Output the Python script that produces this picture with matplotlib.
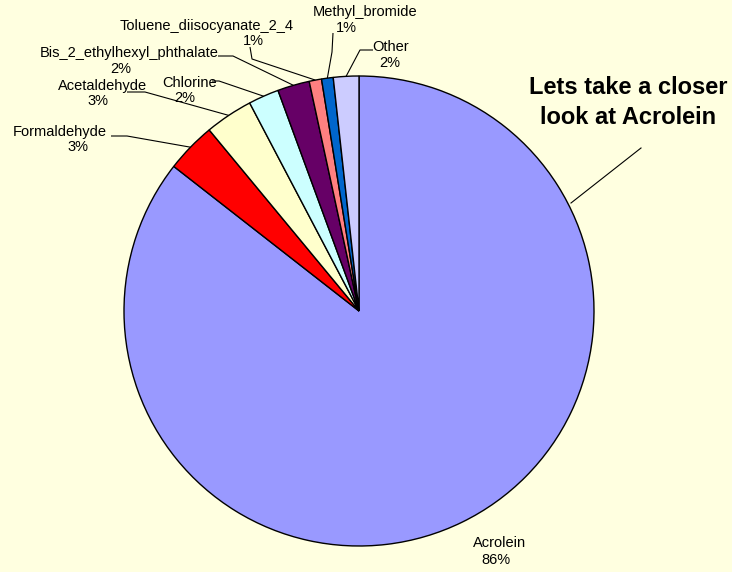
import numpy as np
import matplotlib
matplotlib.use("Agg")
import matplotlib.pyplot as plt

# Share of each pollutant
names = ["Acrolein", "Formaldehyde", "Acetaldehyde", "Chlorine",
         "Bis_2_ethylhexyl_phthalate", "Toluene_diisocyanate_2_4",
         "Methyl_bromide", "Other"]
shares = [85.55, 3.45, 3.3, 2.1, 2.2, 0.85, 0.8, 1.75]
colors = ["#9999FF", "#FF0000", "#FFFFCC", "#CCFFFF",
          "#660066", "#FF8080", "#0066CC", "#CCCCFF"]

W, H = 732, 572
BG = "#FFFFE0"

fig = plt.figure(figsize=(W / 100, H / 100), dpi=100, facecolor=BG)
ax = fig.add_axes([0, 0, 1, 1])
ax.set_facecolor(BG)

cx, cy, r = 359, H - 311, 235
wedges, _ = ax.pie(shares, colors=colors, startangle=90, counterclock=False,
                   center=(cx, cy), radius=r, frame=True,
                   wedgeprops=dict(edgecolor="black", linewidth=1.0))
ax.set_xlim(0, W)
ax.set_ylim(0, H)
ax.set_aspect("equal")
ax.axis("off")

total = sum(shares)
pcts = [f"{int(v / total * 100 + 0.5)}%" for v in shares]

FONT = "Liberation Sans"
FS = 10.5

# name position, percent position, leader start and bend, in pixel layout
layout = {
    "Acrolein": ((500, 543), (496, 560), None),
    "Formaldehyde": ((60, 132), (78, 147), [(111, 136), (127, 136)]),
    "Acetaldehyde": ((103, 86), (98, 101), [(127, 92), (145, 92)]),
    "Chlorine": ((190, 83), (185, 98), [(212, 81), (219, 81)]),
    "Bis_2_ethylhexyl_phthalate": ((129, 53), (121, 69), [(218, 56), (233, 56)]),
    "Toluene_diisocyanate_2_4": ((207, 26), (253, 41), [(250, 47), (252, 59)]),
    "Methyl_bromide": ((365, 12), (346, 28), [(333, 33), (332, 52)]),
    "Other": ((391, 47), (390, 63), [(373, 50), (360, 50)]),
}

for w, name, pct in zip(wedges, names, pcts):
    (nx, ny), (px, py), lead = layout[name]
    ax.text(nx, H - ny, name, ha="center", va="center", fontsize=FS,
            family=FONT, color="black")
    ax.text(px, H - py, pct, ha="center", va="center", fontsize=FS,
            family=FONT, color="black")
    if lead:
        mid = np.deg2rad((w.theta1 + w.theta2) / 2)
        ex, ey = cx + r * np.cos(mid), cy + r * np.sin(mid)
        xs = [lead[0][0], lead[1][0], ex]
        ys = [H - lead[0][1], H - lead[1][1], ey]
        ax.plot(xs, ys, color="black", lw=0.8, solid_capstyle="butt")

# Callout pointing at the Acrolein slice
ax.text(628, H - 88, "Lets take a closer", ha="center", va="center",
        fontsize=17, fontweight="bold", family=FONT)
ax.text(628, H - 117, "look at Acrolein", ha="center", va="center",
        fontsize=17, fontweight="bold", family=FONT)
ax.plot([641, 571], [H - 148, H - 203], color="black", lw=0.8)

fig.savefig("out.png", dpi=100, facecolor=BG)
